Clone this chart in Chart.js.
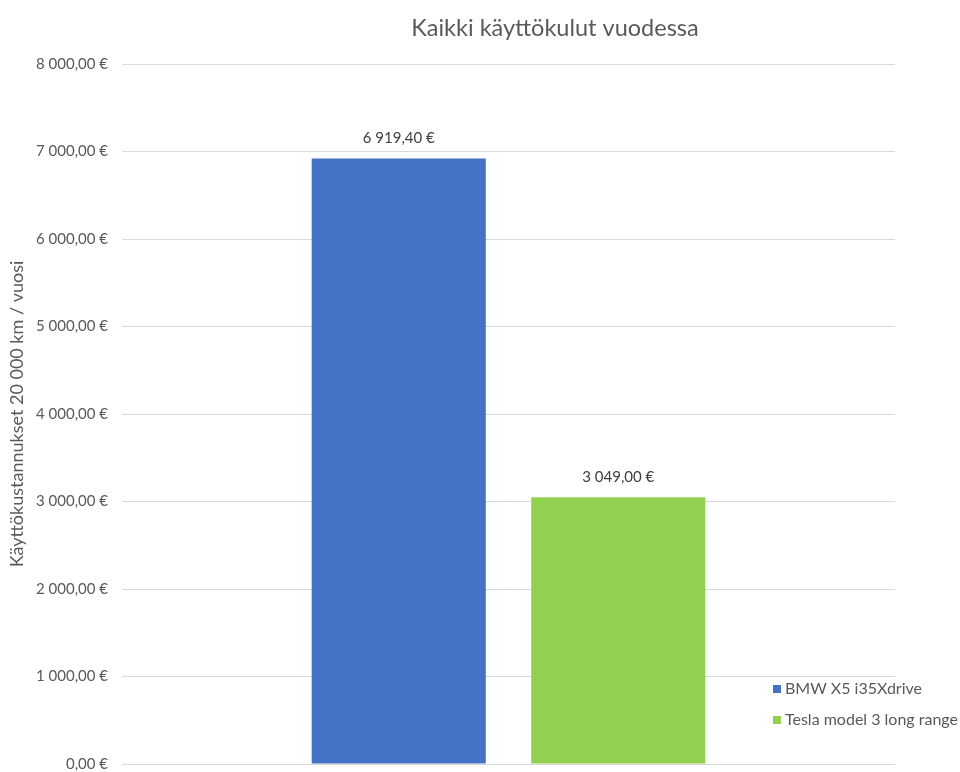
<!DOCTYPE html>
<html><head><meta charset="utf-8">
<script src="https://cdn.jsdelivr.net/npm/chart.js@4/dist/chart.umd.min.js"></script>
<style>html,body{margin:0;padding:0;background:#fff}#wrap{width:960px;height:772px}</style>
</head><body><div id="wrap"><canvas id="c" width="960" height="772"></canvas></div>
<script>
const chartTitle = 'Kaikki käyttökulut vuodessa';
const yAxisTitle = 'Käyttökustannukset 20 000 km / vuosi';
const categories = [''];
const seriesNames = ['BMW X5 i35Xdrive', 'Tesla model 3 long range'];
const bmwValues = [6919.40];
const teslaValues = [3049.00];
const seriesColors = ['#4472C4', '#92D050'];
const yMin = 0, yMax = 8000, yStep = 1000;

const FONT = 'Lato, "Open Sans", sans-serif';
const GREY = '#595959';

function fmtEuro(v) {
  const parts = Number(v).toFixed(2).split('.');
  const int = parts[0].replace(/\B(?=(\d{3})+(?!\d))/g, ' ');
  return int + ',' + parts[1] + ' €';
}

const titlePlugin = {
  id: 'customTitle',
  afterDraw(chart) {
    const ctx = chart.ctx;
    ctx.save();
    ctx.font = '23.5px ' + FONT;
    ctx.fillStyle = GREY;
    ctx.textAlign = 'center';
    ctx.textBaseline = 'middle';
    ctx.fillText(chartTitle, 555, 28);
    ctx.restore();
  }
};

const valueLabels = {
  id: 'valueLabels',
  afterDatasetsDraw(chart) {
    const ctx = chart.ctx;
    ctx.save();
    ctx.font = '15px ' + FONT;
    ctx.fillStyle = '#404040';
    ctx.textAlign = 'center';
    ctx.textBaseline = 'middle';
    chart.data.datasets.forEach((ds, i) => {
      const meta = chart.getDatasetMeta(i);
      meta.data.forEach((el, j) => {
        ctx.fillText(fmtEuro(ds.data[j]), el.x, el.y - 20);
      });
    });
    ctx.restore();
  }
};

const legendPlugin = {
  id: 'customLegend',
  afterDraw(chart) {
    const ctx = chart.ctx;
    ctx.save();
    ctx.font = '16px ' + FONT;
    ctx.textAlign = 'left';
    ctx.textBaseline = 'middle';
    const x0 = chart.chartArea.right - 122;
    const ys = [689, 720];
    chart.data.datasets.forEach((ds, i) => {
      ctx.fillStyle = ds.backgroundColor;
      ctx.fillRect(x0, ys[i] - 4, 8, 8);
      ctx.fillStyle = GREY;
      ctx.fillText(ds.label, x0 + 12, ys[i]);
    });
    ctx.restore();
  }
};

new Chart(document.getElementById('c'), {
  type: 'bar',
  data: {
    labels: categories,
    datasets: [
      { label: seriesNames[0], data: bmwValues, backgroundColor: seriesColors[0] },
      { label: seriesNames[1], data: teslaValues, backgroundColor: seriesColors[1] }
    ]
  },
  options: {
    responsive: false,
    animation: false,
    devicePixelRatio: 1,
    layout: { padding: { top: 64, right: 65, bottom: 8, left: 0 } },
    plugins: {
      legend: { display: false },
      title: { display: false },
      tooltip: { enabled: false }
    },
    datasets: { bar: { categoryPercentage: 0.568, barPercentage: 0.793 } },
    scales: {
      x: { display: false },
      y: {
        min: yMin, max: yMax,
        afterFit(scale) { scale.width = 122; scale.paddingTop = 0; scale.paddingBottom = 0; },
        ticks: { stepSize: yStep, padding: 14, color: GREY, font: { family: FONT, size: 15 }, callback: v => fmtEuro(v) },
        grid: { color: '#d9d9d9', drawTicks: false, lineWidth: 1 },
        border: { display: false },
        title: { display: true, text: yAxisTitle, color: GREY, font: { family: FONT, size: 18 }, padding: { top: 6, bottom: 0 } }
      }
    }
  },
  plugins: [titlePlugin, valueLabels, legendPlugin]
});
</script></body></html>
